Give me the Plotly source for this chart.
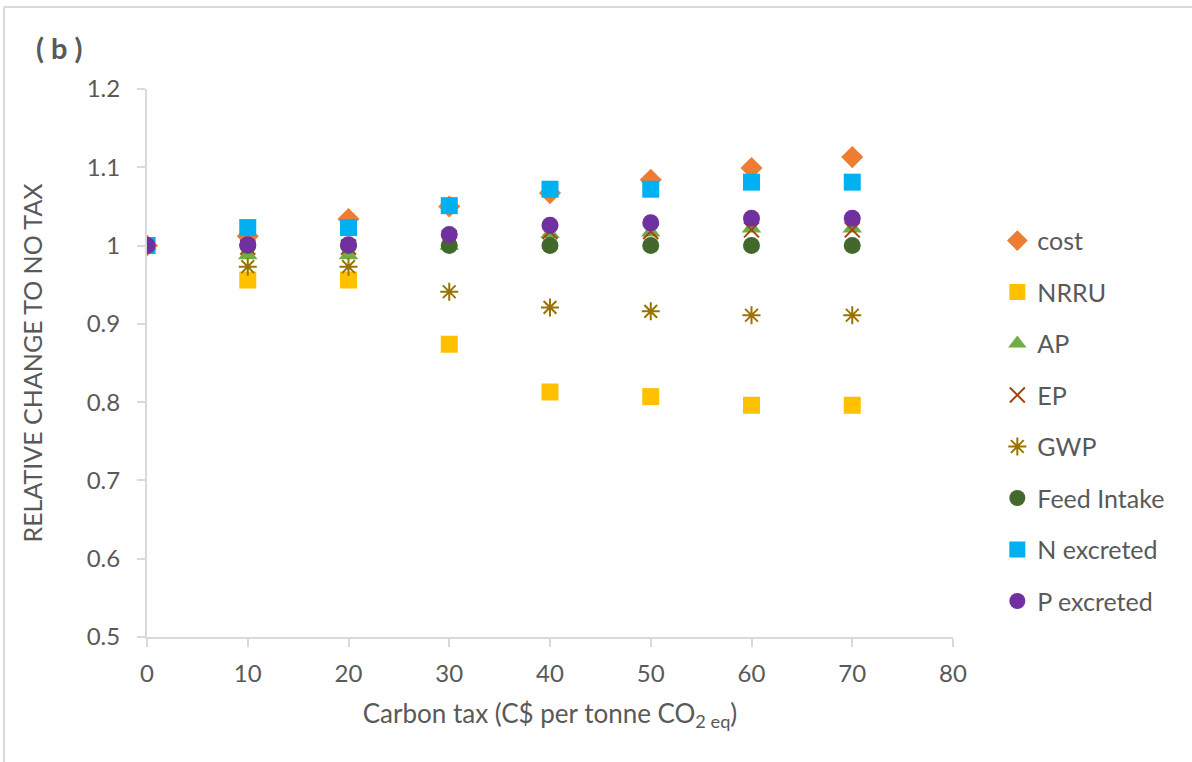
import plotly.graph_objects as go

tax = [0, 10, 20, 30, 40, 50, 60, 70]
cost = [1.0, 1.012, 1.034, 1.05, 1.067, 1.084, 1.099, 1.113]
nrru = [1.0, 0.956, 0.956, 0.874, 0.813, 0.807, 0.796, 0.796]
ap = [1.0, 0.988, 0.988, 1.0, 1.015, 1.017, 1.022, 1.022]
ep = [1.0, 0.998, 0.998, 1.01, 1.018, 1.018, 1.02, 1.02]
gwp = [1.0, 0.973, 0.973, 0.941, 0.921, 0.916, 0.911, 0.911]
feed = [1.0, 1.0, 1.0, 1.0, 1.0, 1.0, 1.0, 1.0]
n_exc = [1.0, 1.023, 1.023, 1.051, 1.072, 1.072, 1.081, 1.081]
p_exc = [1.0, 1.001, 1.001, 1.014, 1.026, 1.029, 1.035, 1.035]

series = [
    ("cost", cost, dict(symbol="diamond", size=17, color="#ED7D31")),
    ("NRRU", nrru, dict(symbol="square", size=17, color="#FFC000")),
    ("AP", ap, dict(symbol="triangle-up", size=17, color="#70AD47")),
    ("EP", ep, dict(symbol="x-thin-open", size=15, color="#9E480E", line=dict(width=2, color="#9E480E"))),
    ("GWP", gwp, dict(symbol="asterisk-open", size=15, color="#997300", line=dict(width=2, color="#997300"))),
    ("Feed Intake", feed, dict(symbol="circle", size=17, color="#43682B")),
    ("N excreted", n_exc, dict(symbol="square", size=17, color="#00B0F0")),
    ("P excreted", p_exc, dict(symbol="circle", size=17, color="#7030A0")),
]

FONT = "Lato, 'Open Sans', sans-serif"
GRAY = "#595959"
AXC = "#D9D9D9"

fig = go.Figure()
for name, vals, mk in series:
    fig.add_trace(go.Scatter(x=tax, y=vals, mode="markers", name=name,
                             legendgroup=name, marker=mk))

fig.update_layout(
    width=1192, height=762,
    margin=dict(l=147, r=239, t=89, b=125),
    paper_bgcolor="white", plot_bgcolor="white",
    font=dict(family=FONT, color=GRAY, size=24),
    showlegend=True,
    legend=dict(x=1.055, y=0.765, xanchor="left", yanchor="top",
                font=dict(size=25, color=GRAY), tracegroupgap=16,
                itemwidth=30, bgcolor="rgba(0,0,0,0)"),
    xaxis=dict(range=[0, 80], dtick=10, tick0=0, showgrid=False, zeroline=False,
               showline=True, linecolor=AXC, linewidth=2,
               ticks="outside", ticklen=8, tickcolor=AXC, tickwidth=2,
               ticklabelstandoff=6,
               tickfont=dict(size=24, color=GRAY),
               title=dict(text="Carbon tax (C$ per tonne CO<sub>2 eq</sub>)",
                          font=dict(size=26, color=GRAY), standoff=19)),
    yaxis=dict(range=[0.5, 1.2], dtick=0.1, tick0=0.5, showgrid=False, zeroline=False,
               showline=True, linecolor=AXC, linewidth=2,
               ticks="outside", ticklen=8, tickcolor=AXC, tickwidth=2,
               ticklabelstandoff=12,
               tickformat="~g",
               tickfont=dict(size=24, color=GRAY),
               title=dict(text="RELATIVE CHANGE TO NO TAX",
                          font=dict(size=25, color=GRAY), standoff=37)),
    annotations=[dict(text="<b>( b )</b>", xref="paper", yref="paper",
                      x=-0.14, y=1.075, xanchor="left", yanchor="middle",
                      showarrow=False, font=dict(size=29, color=GRAY))],
    shapes=[
        dict(type="line", xref="paper", yref="paper", x0=-0.1774, x1=1.3, y0=1.1496, y1=1.1496,
             line=dict(color=AXC, width=2)),
        dict(type="line", xref="paper", yref="paper", x0=-0.1774, x1=-0.1774, y0=-0.3, y1=1.1496,
             line=dict(color=AXC, width=2)),
    ],
)

fig.write_html("out.html")
